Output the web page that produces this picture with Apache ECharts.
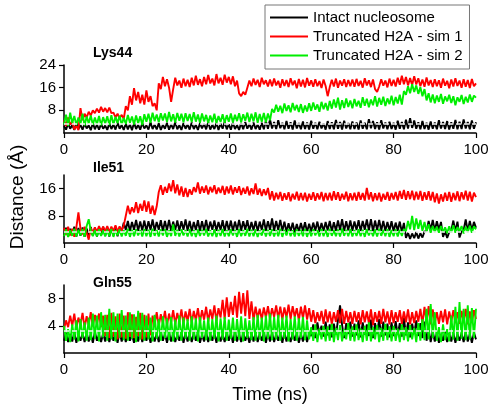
<!DOCTYPE html>
<html>
<head>
<meta charset="utf-8">
<script src="https://cdn.jsdelivr.net/npm/echarts@6/dist/echarts.min.js"></script>
<style>html,body{margin:0;padding:0;background:#fff}#c{width:495px;height:415px}</style>
</head>
<body>
<div id="c"></div>
<script>
// sampling grid (ns), 0.5 ns steps
const timeNs = Array.from({length: 201}, (_, i) => i / 2);
const xTickLabels = [0, 20, 40, 60, 80, 100];
const panelTitles = ['Lys44', 'Ile51', 'Gln55'];
const seriesNames = ['Intact nucleosome', 'Truncated H2A - sim 1', 'Truncated H2A - sim 2'];
const yTickLabels = [[8, 16, 24], [8, 16], [4, 8]];
const yMaxima = [24, 20, 10];
const cutoff = 3.2;

// ---- Lys44 ----
const lysIntact = [
2.5,1.2,3.4,1.5,2.8,1.1,3.6,1.4,2.9,1.2,3.3,1.6,2.7,1.0,3.5,1.3,3.0,1.2,3.2,1.5,
2.6,1.1,3.4,1.4,3.0,1.2,3.7,1.5,2.8,1.1,3.3,1.3,3.1,1.0,3.6,1.4,2.9,1.2,3.5,1.6,
2.7,1.2,3.8,1.4,3.0,1.3,3.4,1.1,2.9,1.5,3.6,1.2,3.1,1.4,3.9,1.3,2.8,1.1,3.5,1.5,
3.0,1.2,3.7,1.4,2.9,1.1,3.4,1.6,3.2,1.3,3.8,1.2,2.9,1.4,3.5,1.1,3.3,1.5,4.0,1.3,
3.1,1.2,3.6,1.4,2.8,1.1,3.5,1.3,3.9,1.5,3.2,1.2,3.7,1.4,3.0,1.2,3.6,1.3,4.2,1.5,
4.8,1.6,3.9,1.4,4.5,1.7,3.6,1.3,4.2,1.5,3.8,1.2,4.4,1.6,3.5,1.3,4.1,1.4,3.7,1.2,
4.3,1.5,3.6,1.3,4.0,1.6,3.4,1.2,4.2,1.4,3.8,1.3,4.6,1.5,3.9,1.2,4.3,1.6,3.5,1.3,
4.1,1.4,3.7,1.2,4.4,1.5,3.6,1.3,4.9,1.7,4.2,1.4,3.8,1.2,4.5,1.6,3.7,1.3,4.0,1.4,
3.6,1.2,4.3,1.5,3.9,1.3,4.7,1.6,5.2,1.8,4.4,1.5,3.8,1.3,4.2,1.4,3.6,1.2,4.1,1.5,
3.7,1.3,4.5,1.6,3.9,1.4,4.2,1.2,3.8,1.5,4.6,1.3,4.0,1.4,4.8,1.6,3.9,1.3,4.4,1.5,
3.8];
const lysSim1 = [
4.5,2.5,5.5,3.0,4.0,1.2,2.5,1.0,8.8,4.5,6.8,5.5,7.5,6.2,8.0,7.0,8.6,7.2,9.2,7.5,
8.8,7.3,9.0,7.0,7.2,5.5,6.8,5.2,6.4,5.0,9.5,8.0,13.0,10.0,15.8,11.5,14.5,10.5,13.5,10.0,
15.0,11.0,13.0,9.5,10.5,8.0,17.5,15.5,19.8,16.5,19.0,16.0,11.0,15.5,19.5,16.8,18.5,16.0,19.2,16.5,
18.8,16.2,19.5,16.8,20.2,17.0,19.0,16.5,19.8,17.2,20.5,17.5,19.2,16.8,20.8,17.5,19.5,17.0,20.6,17.8,
19.8,17.2,20.0,16.5,18.5,14.0,13.0,14.5,13.5,16.0,18.5,16.5,19.2,17.0,18.8,16.2,19.5,17.2,18.6,16.4,
18.9,16.5,19.2,16.8,18.4,16.0,19.0,16.6,18.7,16.2,19.3,16.9,18.5,15.8,19.1,16.4,18.8,16.1,19.4,16.7,
18.6,16.3,19.0,16.5,18.3,15.9,18.9,16.6,13.0,16.2,18.8,16.4,19.2,16.0,18.5,16.7,19.0,16.2,18.7,16.5,
18.9,16.3,19.1,16.6,18.4,16.0,19.3,16.8,18.6,16.2,18.9,15.5,14.5,16.4,19.0,16.7,18.5,16.1,19.2,16.6,
18.8,16.4,19.5,17.0,20.2,17.2,19.8,16.8,19.4,16.9,20.0,17.1,19.3,16.5,18.9,16.3,19.6,16.8,18.7,16.2,
19.0,16.5,18.6,16.0,19.2,16.7,18.4,15.8,18.9,16.4,19.3,16.6,18.5,16.0,19.0,16.3,18.7,15.9,19.1,16.5,
17.5];
const lysSim2 = [
3.0,6.5,2.5,7.2,3.5,6.0,2.8,5.5,3.2,6.8,2.6,5.8,3.4,6.2,2.9,5.5,3.1,6.0,2.7,5.6,
3.3,5.9,2.8,6.3,3.0,5.7,3.5,6.1,2.9,5.4,3.2,6.4,3.6,5.8,3.0,6.2,3.4,5.9,2.8,6.6,
4.0,6.8,3.6,7.2,4.2,6.5,3.8,7.0,4.4,6.9,3.9,7.4,4.1,6.6,3.7,7.1,4.3,6.8,3.8,7.0,
4.2,6.7,3.9,7.3,4.0,6.5,3.6,6.9,4.1,6.4,3.5,6.2,3.8,6.8,3.4,6.0,3.9,6.6,3.6,6.3,
4.0,6.9,3.7,6.4,4.2,7.0,3.8,6.6,4.3,7.2,3.9,6.8,4.1,7.3,3.6,6.7,4.0,7.1,3.8,6.9,
4.5,8.5,7.2,10.0,7.5,9.6,7.0,10.4,7.8,9.8,7.3,10.6,8.0,9.9,7.4,10.2,7.1,9.7,7.6,10.5,
7.8,10.8,8.2,10.1,7.5,11.0,8.4,10.6,7.9,11.3,8.6,11.8,9.0,12.5,8.3,11.6,8.8,12.2,9.2,11.5,
8.7,12.0,9.4,11.4,8.9,12.6,9.6,12.1,9.1,11.8,9.8,13.0,9.3,12.4,10.0,12.8,9.5,12.2,10.2,13.2,
9.8,12.7,10.4,13.5,10.0,14.8,13.5,16.5,14.0,17.2,14.5,16.8,13.8,16.2,13.0,15.5,11.5,14.0,10.8,13.6,
10.5,13.2,11.0,13.8,10.3,12.9,11.2,13.5,10.6,13.0,9.8,12.6,11.0,13.4,10.2,12.8,10.8,13.6,11.0,13.2,
12.5];

// ---- Ile51 ----
const ileIntact = [
2.0,4.5,1.8,4.2,2.2,4.8,1.9,4.4,2.1,4.6,1.8,4.3,2.0,4.7,2.2,4.5,1.9,4.4,2.3,4.8,
2.1,4.6,1.9,4.3,2.2,4.8,2.0,4.5,3.5,6.0,3.8,6.5,3.4,6.2,3.9,6.8,3.6,6.3,3.7,6.6,
3.5,6.4,3.8,6.9,3.6,6.2,3.9,6.7,3.4,6.5,3.7,6.8,3.5,6.3,3.8,6.6,3.6,6.4,3.9,6.9,
3.6,6.5,3.4,6.2,3.8,6.7,3.5,6.4,3.7,6.8,3.5,6.3,3.9,6.6,3.6,6.2,3.8,6.7,3.4,6.5,
3.7,6.6,3.5,6.3,3.8,6.8,3.6,6.4,3.9,6.7,3.5,6.2,3.7,6.5,3.4,6.3,3.8,6.9,3.6,6.4,
3.9,7.2,3.6,6.5,3.8,6.8,3.5,6.3,3.2,5.8,3.4,6.0,3.1,5.6,3.3,5.9,3.5,6.1,3.2,5.7,
3.4,6.0,3.6,6.3,3.3,5.9,3.5,6.2,3.7,6.5,3.4,6.1,3.6,6.6,3.8,7.0,3.5,6.4,3.7,6.6,
3.6,6.3,3.8,6.7,3.5,6.5,3.9,6.9,3.7,7.0,3.4,6.6,3.8,6.8,3.6,6.5,3.5,6.2,3.7,6.4,
3.4,6.0,3.6,6.3,3.2,5.9,1.5,3.0,1.2,2.8,1.4,3.2,1.3,2.9,1.6,3.4,3.5,6.5,3.8,6.8,
3.6,6.4,3.9,6.2,1.8,3.5,1.5,3.2,3.7,6.6,3.5,6.3,1.6,3.4,3.8,6.9,3.5,6.5,3.7,6.2,
4.5];
const ileSim1 = [
4.5,2.5,4.8,2.2,4.2,1.8,4.6,9.0,4.2,2.5,4.8,3.0,1.0,4.5,2.8,4.6,3.2,5.0,3.5,4.8,
3.4,5.0,3.2,4.8,3.5,5.2,3.3,4.9,3.6,5.1,8.0,11.0,8.5,10.5,9.0,12.0,8.8,11.5,9.5,12.5,
9.2,12.2,8.6,11.0,8.2,10.8,15.0,17.0,14.2,16.5,14.8,17.5,15.2,18.5,14.6,17.2,14.0,16.6,13.6,16.2,
13.5,15.8,14.2,16.4,15.0,17.8,14.5,16.6,14.8,16.9,14.3,16.5,14.9,17.0,14.4,16.3,14.7,16.8,14.2,16.6,
14.6,16.9,14.3,16.4,14.8,16.7,14.1,16.2,14.5,16.6,14.0,16.1,14.4,17.5,14.2,16.0,13.8,15.8,14.1,16.2,
12.8,15.2,12.5,14.8,12.9,15.0,12.4,14.6,12.7,14.9,12.3,14.5,12.8,15.1,12.5,14.7,12.6,14.8,12.2,14.5,
12.7,14.9,12.4,14.6,12.8,15.0,12.3,14.7,12.6,14.8,12.5,15.2,12.7,14.9,12.4,14.5,12.8,15.1,12.3,14.6,
12.6,14.8,12.4,15.0,12.7,14.7,12.5,16.2,12.8,14.9,12.3,14.6,12.6,14.8,12.2,14.5,12.7,15.0,12.4,14.7,
12.8,15.0,12.5,15.3,13.0,15.6,12.7,15.2,12.9,15.4,12.6,15.1,12.8,15.3,12.4,14.9,12.7,15.2,12.5,15.0,
12.0,14.6,11.6,14.3,12.2,14.8,12.4,15.0,12.1,14.7,12.6,15.2,12.3,14.9,12.8,15.4,12.5,15.1,12.2,14.8,
13.5];
const ileSim2 = [
2.0,4.0,1.8,3.8,2.1,4.2,1.9,3.9,2.2,4.1,1.8,5.0,7.0,3.5,2.0,3.8,1.9,4.0,2.1,3.7,
1.9,3.9,2.0,4.1,1.8,3.8,2.2,4.0,1.9,3.7,2.1,4.2,1.8,3.9,2.0,4.0,2.2,3.8,1.9,4.1,
2.0,3.9,1.8,4.2,2.1,3.8,1.9,4.0,2.2,4.1,1.8,3.7,2.0,5.5,2.1,3.9,1.9,4.0,2.2,3.8,
1.9,4.1,2.0,3.8,1.8,4.0,2.1,3.9,2.2,4.2,1.9,3.7,2.0,4.0,1.8,3.9,2.1,4.1,1.9,3.8,
2.0,4.0,2.2,3.9,1.8,4.1,2.0,3.8,2.1,4.2,1.9,3.9,2.0,4.0,1.8,3.7,2.2,4.1,1.9,3.9,
2.1,4.0,1.9,3.8,2.0,4.2,1.8,3.9,2.2,4.1,2.0,3.7,1.9,4.0,2.1,3.8,2.0,4.1,1.8,3.9,
2.0,4.0,2.2,3.8,1.9,4.1,2.0,3.9,1.8,4.2,2.1,3.8,2.0,4.0,1.9,4.3,2.1,3.9,2.0,4.1,
1.9,3.8,2.1,4.0,2.0,3.9,1.8,4.1,2.2,3.8,2.0,4.0,1.9,4.2,2.1,3.9,2.0,4.1,1.8,3.8,
2.0,4.0,1.9,3.9,2.1,4.1,3.5,6.5,4.0,8.0,3.8,7.2,4.2,6.8,3.6,6.2,3.4,5.5,3.0,5.0,
3.2,4.8,3.0,5.0,3.3,4.6,2.9,4.9,3.1,5.2,3.0,4.7,3.4,5.0,2.8,4.8,3.2,5.1,3.0,4.9,
4.0];

// ---- Gln55 ----
const glnIntact = [
1.8,3.0,1.6,2.8,1.7,3.1,1.5,2.7,1.8,2.9,1.6,3.0,1.7,2.8,1.5,3.1,1.8,2.7,1.6,2.9,
1.7,3.0,1.6,2.9,1.8,2.8,1.5,3.1,1.7,2.9,1.6,3.0,1.8,2.7,1.5,2.9,1.7,3.1,1.6,2.8,
1.8,3.0,1.5,2.7,1.7,2.9,1.6,3.1,1.8,2.8,1.5,3.0,1.7,2.9,1.6,2.7,1.8,3.1,1.5,2.9,
1.7,2.8,1.6,3.0,1.8,2.9,1.5,2.7,1.7,3.1,1.6,2.8,1.8,3.0,1.5,2.9,1.7,2.7,1.6,3.0,
1.8,2.9,1.5,3.1,1.7,2.8,1.6,3.0,1.8,2.7,1.5,2.9,1.7,3.0,1.6,2.8,1.8,3.1,1.5,2.9,
1.7,3.0,1.6,2.8,1.8,2.9,1.5,3.1,1.7,2.7,1.6,3.0,1.8,2.9,1.5,2.8,1.7,3.0,1.6,2.9,
2.5,4.2,2.2,4.5,2.8,4.0,2.4,4.6,2.6,4.2,2.3,4.3,2.7,4.8,7.0,4.1,2.2,4.4,2.8,4.6,
2.4,4.3,2.6,4.8,2.3,4.5,2.7,4.2,2.5,4.9,2.2,4.4,2.8,5.0,2.4,4.6,2.6,4.3,2.3,4.5,
2.5,4.7,2.7,4.4,2.4,5.2,2.6,4.5,2.3,4.3,2.8,4.8,2.5,4.4,2.2,4.6,1.8,3.5,1.6,3.2,
1.7,3.0,1.5,2.8,1.8,3.1,1.6,2.9,1.7,3.0,1.5,2.8,1.8,2.9,1.6,3.1,1.7,2.8,1.5,3.0,
2.0];
const glnSim1 = [
3.5,4.8,3.8,5.5,4.0,5.8,3.6,5.2,4.2,5.9,3.7,5.4,4.1,6.0,3.9,5.6,4.3,5.8,3.8,5.5,
2.5,5.6,2.2,5.9,2.4,5.4,2.0,5.8,2.3,5.5,2.1,6.0,2.4,5.7,2.2,5.3,2.5,5.9,2.0,5.6,
2.3,5.8,2.6,5.5,4.2,6.0,4.0,5.7,4.4,6.2,4.1,5.8,4.5,6.3,4.2,5.9,4.6,6.4,4.3,6.1,
4.7,6.5,4.4,6.2,4.8,6.6,4.5,6.3,4.9,6.8,4.6,6.4,5.0,7.0,4.7,6.6,5.2,7.8,5.0,8.2,
5.3,7.5,5.6,8.4,5.2,9.0,5.8,8.8,5.4,9.2,5.0,7.6,4.8,6.8,5.1,6.5,4.9,6.7,5.2,6.9,
5.0,6.6,5.3,7.0,5.1,6.8,4.9,6.7,5.2,7.1,5.0,6.9,5.3,6.6,4.8,6.8,5.1,7.0,4.9,6.6,
4.6,6.3,4.4,6.0,4.7,6.2,4.3,6.4,4.5,6.1,4.2,6.0,4.6,6.3,4.4,6.5,4.3,6.2,4.5,6.0,
4.3,6.2,4.6,6.0,4.2,6.3,4.5,6.1,4.4,6.4,4.1,6.0,4.6,6.2,4.3,6.5,4.5,6.1,4.2,6.3,
4.4,6.0,4.6,6.3,4.3,6.1,4.5,6.4,4.2,6.0,4.4,6.2,4.6,6.5,4.3,6.8,4.5,6.9,4.2,6.4,
4.4,6.0,4.3,6.2,4.5,6.4,4.2,6.1,4.6,6.3,4.4,6.0,4.3,6.2,4.5,6.5,4.2,6.1,4.4,6.3,
5.0];
const glnSim2 = [
4.0,1.8,3.5,1.6,4.2,2.0,4.8,1.7,5.0,2.2,4.5,1.8,5.2,1.9,5.8,2.1,5.5,1.7,6.0,2.3,
5.6,1.8,6.5,2.0,6.0,1.7,5.8,2.2,6.3,1.9,5.5,1.8,6.0,2.1,5.7,1.6,6.2,2.0,5.9,1.8,
5.5,2.0,5.2,1.7,5.6,2.1,5.0,1.8,5.4,2.2,5.1,1.9,5.3,1.7,4.9,2.0,5.5,1.8,5.2,2.1,
5.0,1.8,5.4,2.0,5.1,1.7,5.3,2.2,4.8,1.9,5.2,1.8,5.0,2.1,5.5,1.7,5.1,2.0,5.3,1.8,
4.9,2.1,5.2,1.8,5.0,2.0,5.4,1.7,5.1,2.2,4.8,1.9,5.3,1.8,5.6,2.0,5.2,1.7,5.5,2.1,
5.8,1.9,5.3,2.0,5.6,1.8,5.2,2.1,5.5,1.7,5.0,2.0,5.4,1.8,5.1,2.2,5.3,1.9,4.8,2.0,
3.8,1.8,4.2,1.6,3.6,2.0,4.0,1.7,3.9,1.8,4.3,1.6,3.7,1.9,4.1,1.7,3.5,2.0,4.4,1.8,
3.9,1.7,4.2,1.9,3.6,1.6,4.0,1.8,4.5,1.7,3.8,2.0,4.1,1.6,3.7,1.8,4.3,1.9,3.9,1.7,
4.0,1.8,3.6,1.6,4.2,1.9,3.8,1.7,4.1,2.0,3.7,1.6,4.4,1.8,5.0,1.9,6.5,2.0,7.2,2.2,
6.0,1.8,3.8,1.6,4.2,1.9,3.5,1.7,5.5,2.0,6.8,1.8,7.5,2.1,6.5,1.9,7.0,2.0,6.6,2.2,
6.5];

const panelData = [
  [lysIntact, lysSim1, lysSim2],
  [ileIntact, ileSim1, ileSim2],
  [glnIntact, glnSim1, glnSim2]
];
const colors = ['#000000', '#ff0000', '#00ee00'];
const FONT = '"Liberation Sans", Arial, sans-serif';

const chart = echarts.init(document.getElementById('c'), null, {renderer: 'canvas'});
const grids = [], xAxes = [], yAxes = [], series = [], titles = [];
const gridTops = [65, 175, 285];
const titleTops = [46, 161, 276];
for (let p = 0; p < 3; p++) {
  grids.push({left: 64, right: 19, top: gridTops[p], height: 68});
  xAxes.push({
    type: 'value', gridIndex: p, min: 0, max: 100, interval: 20,
    axisLine: {show: true, lineStyle: {color: '#000', width: 1.5}},
    axisTick: {show: true, inside: false, length: 5, lineStyle: {color: '#000', width: 1.2},
               customValues: xTickLabels},
    axisLabel: {color: '#000', fontSize: 15, fontFamily: FONT, margin: 9, customValues: xTickLabels},
    splitLine: {show: false}
  });
  yAxes.push({
    type: 'value', gridIndex: p, min: 0, max: yMaxima[p],
    axisLine: {show: true, lineStyle: {color: '#000', width: 1.5}},
    axisTick: {show: true, inside: false, length: 5, lineStyle: {color: '#000', width: 1.2},
               customValues: yTickLabels[p]},
    axisLabel: {color: '#000', fontSize: 15, fontFamily: FONT, margin: 8, customValues: yTickLabels[p]},
    splitLine: {show: false}
  });
  titles.push({
    text: panelTitles[p], left: 93, top: titleTops[p], padding: 0,
    textStyle: {fontSize: 14, fontWeight: 'bold', color: '#000', fontFamily: FONT}
  });
  for (let s = 0; s < 3; s++) {
    const vals = panelData[p][s];
    const ser = {
      type: 'line', name: seriesNames[s], xAxisIndex: p, yAxisIndex: p,
      data: timeNs.map((t, i) => [t, vals[i]]),
      symbol: 'none', showSymbol: false, animation: false,
      lineStyle: {color: colors[s], width: 1.9},
      itemStyle: {color: colors[s]},
      z: 2 + s
    };
    if (s === 2) {
      // white dashed cutoff reference line drawn over the traces
      ser.markLine = {
        silent: true, symbol: 'none', animation: false, z: 10,
        label: {show: false},
        lineStyle: {color: '#f2f2f2', type: [5, 3], width: 1.5, opacity: 1},
        emphasis: {disabled: true},
        data: [{yAxis: cutoff}]
      };
    }
    series.push(ser);
  }
}
titles.push({
  text: 'Time (ns)', left: 270, top: 386, textAlign: 'center', padding: 0,
  textStyle: {fontSize: 18, color: '#000', fontWeight: 'normal', fontFamily: FONT}
});

chart.setOption({
  backgroundColor: '#fff',
  animation: false,
  title: titles,
  grid: grids,
  xAxis: xAxes,
  yAxis: yAxes,
  legend: {
    data: seriesNames, orient: 'vertical', left: 265, top: 5,
    padding: [4, 7, 5, 5], itemGap: 2, itemWidth: 38, itemHeight: 2, icon: 'rect',
    borderColor: '#777', borderWidth: 1, backgroundColor: '#fff',
    textStyle: {fontSize: 15, color: '#000', fontFamily: FONT, lineHeight: 17}
  },
  graphic: [{
    type: 'text', rotation: Math.PI / 2, x: 8, y: 197,
    style: {text: 'Distance (Å)', fontSize: 19, fill: '#000', fontFamily: FONT,
            textAlign: 'center', textVerticalAlign: 'top'}
  }],
  series: series
});
</script>
</body>
</html>
